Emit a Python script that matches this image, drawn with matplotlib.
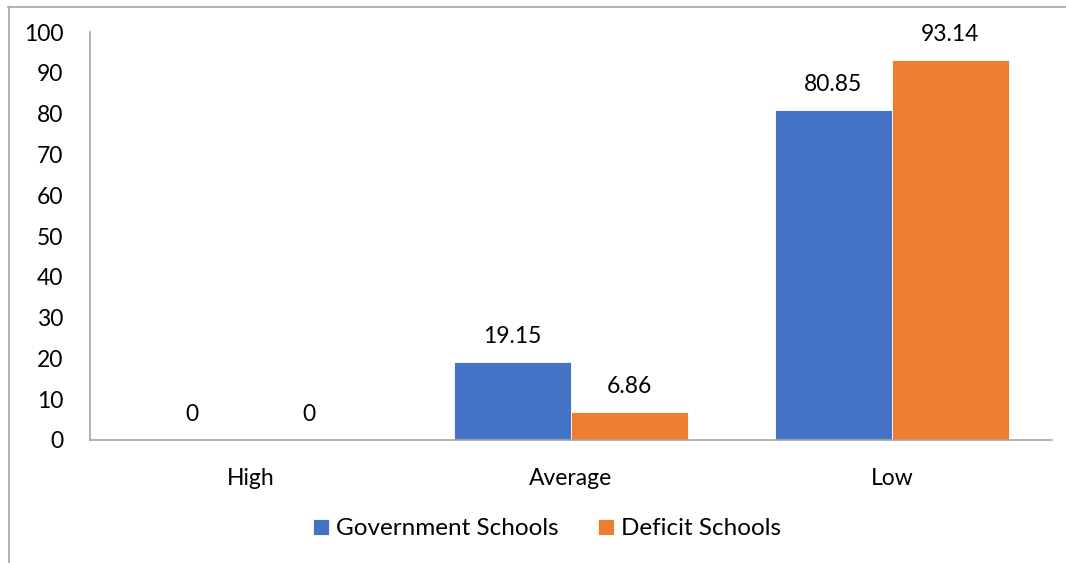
import matplotlib
matplotlib.use("Agg")
import matplotlib.pyplot as plt
from matplotlib.lines import Line2D
import numpy as np

categories = ["High", "Average", "Low"]
series_names = ["Government Schools", "Deficit Schools"]
government = [0, 19.15, 80.85]
deficit = [0, 6.86, 93.14]
y_ticks = [0, 10, 20, 30, 40, 50, 60, 70, 80, 90, 100]

colors = ["#4472C4", "#ED7D31"]
plt.rcParams["font.family"] = ["Lato", "DejaVu Sans"]
FS = 16.5

fig = plt.figure(figsize=(10.66, 5.63), dpi=100)
ax = fig.add_axes([0.0844, 0.2185, 0.9026, 0.7245])

x = np.arange(len(categories))
w = 0.365
for vals, off, col, name in [(government, -w / 2, colors[0], series_names[0]),
                             (deficit, w / 2, colors[1], series_names[1])]:
    bars = ax.bar(x + off, vals, width=w, color=col, edgecolor="white",
                  linewidth=0.6, label=name)
    for b, v in zip(bars, vals):
        ax.annotate(f"{v:g}", (b.get_x() + b.get_width() / 2, v),
                    xytext=(0, 11), textcoords="offset points",
                    ha="center", va="bottom", fontsize=FS, color="#000000")

ax.set_xlim(-0.5, 2.5)
ax.set_ylim(0, 100)
ax.set_yticks(y_ticks)
ax.set_xticks(x)
ax.set_xticklabels(categories)
ax.tick_params(axis="both", length=0, labelsize=FS, colors="#000000")
ax.tick_params(axis="y", pad=19)
ax.tick_params(axis="x", pad=20)
for s in ["top", "right"]:
    ax.spines[s].set_visible(False)
for s in ["left", "bottom"]:
    ax.spines[s].set_color("#A6A6A6")
    ax.spines[s].set_linewidth(1.2)

ax.legend(loc="center", bbox_to_anchor=(0.475, -0.218), ncol=2, frameon=False,
          fontsize=17.5, handlelength=0.65, handleheight=0.65, handletextpad=0.3,
          columnspacing=1.6)

# outer chart border
fig.add_artist(Line2D([8 / 1066, 1.0], [1 - 7 / 563, 1 - 7 / 563],
                      transform=fig.transFigure, color="#A6A6A6", lw=1.2))
fig.add_artist(Line2D([9 / 1066, 9 / 1066], [0, 1 - 7 / 563],
                      transform=fig.transFigure, color="#A6A6A6", lw=1.2))

fig.savefig("out.png", dpi=100)
